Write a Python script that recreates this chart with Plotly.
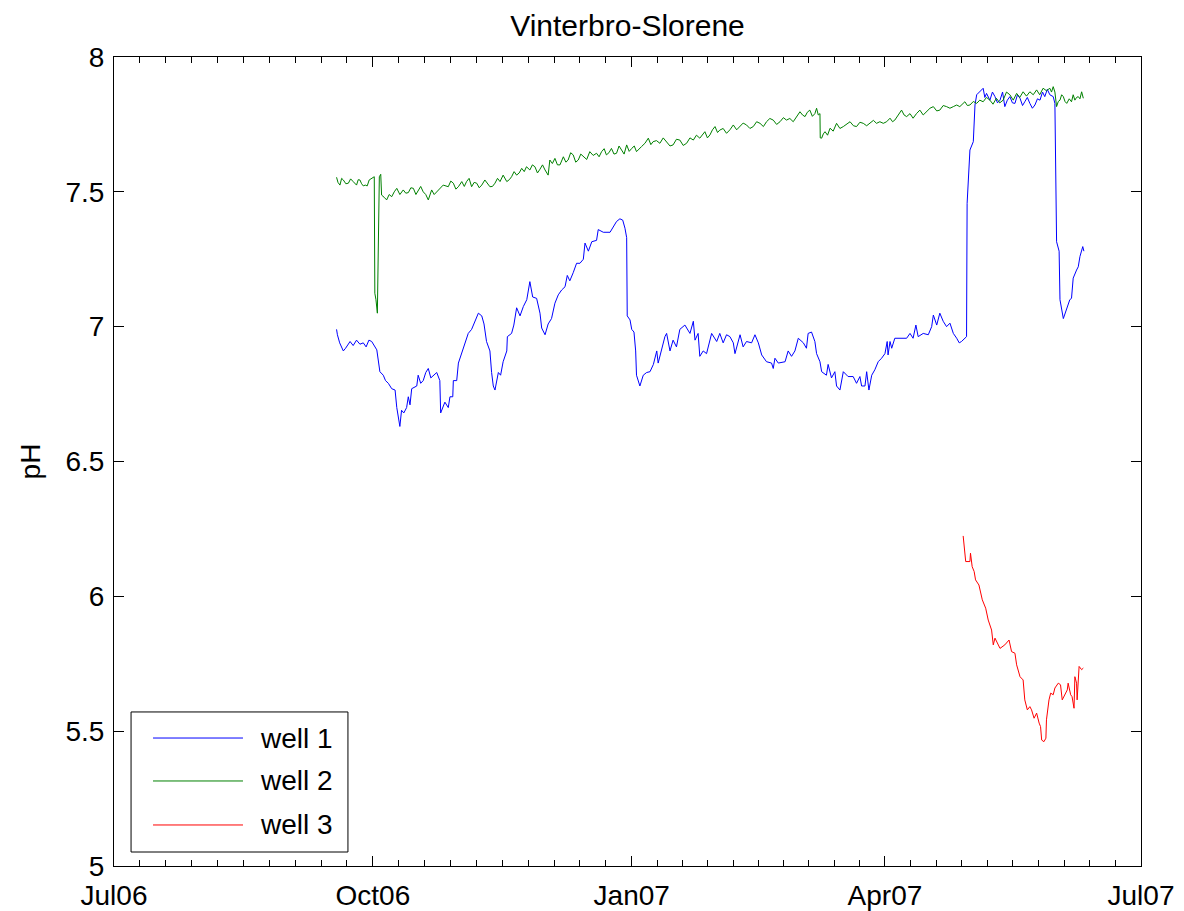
import pandas as pd
import plotly.graph_objects as go

START = "2006-07-01"
title_text = "Vinterbro-Slorene"
series_names = ["well 1", "well 2", "well 3"]
series_colors = ["#0000ff", "#008000", "#ff0000"]
quarter_dates = ["2006-07-01", "2006-10-01", "2007-01-01", "2007-04-01", "2007-07-01"]
quarter_labels = ["Jul06", "Oct06", "Jan07", "Apr07", "Jul07"]
ph_ticks = [5, 5.5, 6, 6.5, 7, 7.5, 8]
ph_labels = ["5", "5.5", "6", "6.5", "7", "7.5", "8"]

# days elapsed since 2006-07-01, and pH readings
blue_days = [
    79.1, 79.4, 80.2, 81.5, 82.3, 83.9, 85.0, 86.2, 87.4, 88.6,
    89.6, 90.6, 91.6, 92.5, 93.4, 94.5, 95.7, 96.5, 97.5, 98.7,
    99.9, 100.5, 101.6, 102.2, 103.0, 104.0, 104.6, 105.2, 105.8, 107.6,
    108.1, 109.0, 109.9, 110.8, 111.7, 112.6, 113.5, 114.7, 115.8, 116.1,
    117.6, 118.8, 119.4, 120.4, 120.6, 121.8, 122.4, 123.6, 124.7, 125.9,
    127.1, 128.3, 129.5, 130.7, 131.5, 132.4, 133.6, 134.2, 134.8, 135.4,
    136.6, 137.4, 138.3, 139.6, 139.8, 141.3, 142.1, 143.1, 144.3, 145.5,
    146.7, 147.8, 148.8, 150.2, 151.4, 152.0, 153.2, 154.3, 155.5, 156.7,
    157.9, 159.1, 160.3, 161.1, 162.0, 163.2, 164.4, 165.6, 166.8, 167.4,
    168.6, 169.8, 171.5, 172.1, 173.9, 176.3, 177.4, 178.6, 179.8, 180.8,
    181.6, 182.2, 182.4, 183.4, 184.0, 184.8, 185.4, 185.7, 186.9, 188.1,
    189.3, 190.5, 191.7, 192.9, 193.4, 194.6, 195.8, 196.4, 197.6, 198.7,
    199.9, 201.1, 202.9, 204.7, 205.9, 206.5, 207.6, 208.2, 209.4, 210.6,
    212.4, 214.2, 215.3, 216.5, 217.7, 218.9, 220.1, 220.7, 222.5, 223.6,
    224.8, 226.6, 227.8, 229.0, 230.2, 231.9, 233.7, 234.3, 234.9, 236.1,
    238.5, 239.6, 240.8, 242.0, 243.2, 245.0, 246.1, 246.7, 247.9, 249.1,
    249.7, 250.9, 251.5, 253.2, 253.8, 255.0, 256.2, 256.8, 258.0, 259.2,
    260.9, 262.7, 263.9, 265.1, 265.7, 266.9, 267.5, 268.3, 269.3, 270.4,
    271.6, 272.8, 274.0, 274.8, 275.1, 275.8, 276.4, 277.5, 281.7, 282.9,
    284.0, 285.0, 285.8, 287.6, 289.4, 290.6, 291.2, 292.4, 293.5, 294.7,
    295.9, 297.1, 298.3, 299.5, 300.4, 301.2, 302.4, 303.0, 303.2, 304.2,
    305.4, 306.0, 306.6, 307.7, 308.9, 309.5, 310.1, 311.3, 312.2, 313.1,
    314.0, 314.9, 315.8, 316.6, 317.5, 318.4, 319.3, 320.2, 321.1, 322.0,
    322.9, 323.7, 324.6, 325.5, 326.4, 327.3, 328.2, 329.1, 330.0, 330.8,
    331.7, 332.6, 333.8, 334.4, 335.0, 335.9, 336.2, 337.4, 338.6, 339.7,
    340.3, 340.9, 342.1, 342.7, 343.3, 344.3, 344.7,
]
blue_ph = [
    6.99, 6.97, 6.94, 6.91, 6.92, 6.945, 6.93, 6.95, 6.935, 6.94,
    6.925, 6.95, 6.945, 6.93, 6.914, 6.833, 6.82, 6.80, 6.79, 6.77,
    6.765, 6.70, 6.63, 6.69, 6.68, 6.70, 6.74, 6.71, 6.77, 6.78,
    6.82, 6.79, 6.80, 6.83, 6.845, 6.81, 6.82, 6.83, 6.80, 6.68,
    6.72, 6.70, 6.74, 6.74, 6.80, 6.80, 6.865, 6.90, 6.94, 6.975,
    6.99, 7.02, 7.05, 7.04, 7.01, 6.945, 6.91, 6.83, 6.78, 6.765,
    6.83, 6.82, 6.87, 6.91, 6.963, 6.975, 7.006, 7.07, 7.04, 7.075,
    7.10, 7.167, 7.11, 7.105, 7.05, 6.995, 6.97, 7.01, 7.03, 7.087,
    7.118, 7.136, 7.148, 7.19, 7.17, 7.20, 7.235, 7.235, 7.25, 7.31,
    7.28, 7.315, 7.32, 7.36, 7.35, 7.35, 7.37, 7.39, 7.40, 7.395,
    7.365, 7.33, 7.04, 7.025, 6.99, 6.98, 6.91, 6.82, 6.78, 6.82,
    6.83, 6.833, 6.86, 6.91, 6.865, 6.91, 6.963, 6.975, 6.91, 6.95,
    6.925, 6.99, 7.006, 6.975, 7.02, 6.95, 6.975, 6.89, 6.91, 6.90,
    6.975, 6.945, 6.975, 6.94, 6.97, 6.963, 6.94, 6.90, 6.97, 6.925,
    6.945, 6.94, 6.97, 6.94, 6.895, 6.87, 6.865, 6.845, 6.883, 6.865,
    6.87, 6.91, 6.89, 6.91, 6.957, 6.94, 6.92, 6.975, 6.98, 6.945,
    6.90, 6.87, 6.833, 6.82, 6.86, 6.81, 6.833, 6.78, 6.765, 6.833,
    6.815, 6.815, 6.79, 6.815, 6.78, 6.78, 6.833, 6.765, 6.82, 6.84,
    6.87, 6.883, 6.90, 6.945, 6.895, 6.945, 6.92, 6.957, 6.957, 6.975,
    6.957, 7.006, 6.963, 6.975, 6.97, 7.0, 7.043, 7.006, 7.05, 7.02,
    7.0, 7.013, 6.975, 6.957, 6.94, 6.945, 6.957, 6.963, 7.457, 7.655,
    7.686, 7.822, 7.86, 7.87, 7.884, 7.85, 7.865, 7.84, 7.87, 7.853,
    7.83, 7.84, 7.87, 7.816, 7.84, 7.853, 7.83, 7.828, 7.86, 7.847,
    7.82, 7.834, 7.85, 7.828, 7.81, 7.822, 7.845, 7.84, 7.87, 7.853,
    7.88, 7.86, 7.853, 7.828, 7.315, 7.28, 7.10, 7.03, 7.07, 7.10,
    7.105, 7.18, 7.21, 7.222, 7.26, 7.297, 7.28,
]

green_days = [
    79.1, 79.6, 80.3, 80.9, 81.5, 82.4, 83.3, 84.1, 85.0, 85.6,
    86.2, 86.8, 87.4, 88.0, 88.6, 89.3, 90.0, 90.7, 91.6, 92.5,
    92.7, 93.1, 93.6, 94.3, 94.8, 95.1, 96.0, 96.9, 97.8, 98.7,
    99.6, 100.5, 101.6, 102.8, 103.7, 104.6, 105.5, 106.4, 107.3, 108.1,
    109.0, 109.9, 110.8, 111.7, 112.9, 113.8, 114.7, 115.9, 117.0, 118.8,
    119.7, 120.6, 121.5, 122.4, 123.6, 124.5, 125.3, 126.2, 127.1, 128.0,
    128.9, 129.8, 130.7, 131.8, 132.7, 133.6, 134.5, 135.4, 136.3, 137.2,
    138.3, 139.6, 140.5, 141.3, 142.2, 143.1, 144.0, 144.9, 145.8, 146.6,
    147.8, 148.7, 149.6, 150.5, 151.4, 152.3, 153.2, 154.3, 154.9, 155.8,
    156.7, 157.6, 158.5, 159.7, 160.6, 161.4, 162.3, 163.2, 164.1, 165.0,
    165.9, 166.8, 168.0, 169.1, 170.3, 171.5, 172.4, 173.3, 174.2, 175.0,
    175.9, 176.8, 177.7, 178.6, 179.5, 180.4, 181.3, 182.2, 183.1, 184.0,
    184.9, 185.7, 186.6, 187.5, 188.7, 189.9, 190.8, 191.6, 192.8, 194.0,
    195.2, 196.4, 197.6, 198.7, 199.9, 201.1, 202.3, 203.5, 204.7, 205.9,
    207.0, 208.2, 209.1, 210.0, 210.9, 211.8, 212.7, 213.6, 214.5, 215.3,
    216.5, 217.7, 218.9, 220.1, 221.3, 222.5, 223.6, 224.8, 226.0, 227.2,
    228.4, 229.6, 230.8, 231.9, 233.1, 234.3, 235.5, 236.7, 237.9, 239.0,
    240.2, 241.4, 242.6, 243.8, 244.7, 245.6, 246.4, 247.3, 248.2, 249.1,
    249.7, 250.3, 250.9, 251.0, 251.5, 252.1, 252.7, 253.6, 254.5, 255.6,
    256.8, 258.0, 259.2, 260.4, 261.6, 262.8, 263.9, 265.1, 266.3, 267.5,
    268.7, 269.9, 271.0, 272.2, 273.4, 274.6, 275.8, 276.7, 277.5, 278.7,
    279.9, 280.8, 281.7, 282.9, 284.0, 285.2, 286.4, 287.6, 288.8, 290.0,
    291.2, 292.4, 293.5, 294.7, 295.9, 297.1, 298.3, 299.5, 300.6, 301.5,
    302.4, 303.3, 304.2, 305.4, 306.6, 307.7, 308.9, 310.1, 311.3, 312.4,
    313.6, 314.8, 316.0, 317.2, 318.4, 319.6, 320.8, 321.9, 323.1, 324.3,
    325.5, 326.7, 327.9, 329.0, 330.2, 331.4, 332.6, 333.2, 333.8, 334.4,
    335.0, 335.6, 336.2, 336.8, 337.4, 338.0, 338.6, 339.5, 340.3, 340.9,
    341.5, 342.1, 342.7, 343.3, 343.9, 344.5,
]
green_ph = [
    7.554, 7.535, 7.525, 7.55, 7.544, 7.53, 7.532, 7.548, 7.538, 7.53,
    7.525, 7.545, 7.544, 7.53, 7.522, 7.525, 7.522, 7.544, 7.55, 7.556,
    7.124, 7.10, 7.05, 7.556, 7.565, 7.488, 7.48, 7.47, 7.49, 7.482,
    7.50, 7.513, 7.49, 7.507, 7.495, 7.497, 7.515, 7.513, 7.49, 7.504,
    7.52, 7.50, 7.49, 7.47, 7.507, 7.49, 7.50, 7.515, 7.525, 7.519,
    7.54, 7.532, 7.51, 7.519, 7.538, 7.52, 7.538, 7.55, 7.519, 7.535,
    7.532, 7.515, 7.525, 7.544, 7.53, 7.519, 7.52, 7.532, 7.55, 7.538,
    7.562, 7.538, 7.545, 7.556, 7.575, 7.562, 7.57, 7.587, 7.575, 7.593,
    7.581, 7.60, 7.593, 7.57, 7.584, 7.60, 7.581, 7.562, 7.618, 7.605,
    7.624, 7.60, 7.60, 7.63, 7.61, 7.618, 7.645, 7.637, 7.61, 7.618,
    7.64, 7.63, 7.62, 7.649, 7.635, 7.643, 7.63, 7.649, 7.66, 7.637,
    7.645, 7.661, 7.64, 7.643, 7.67, 7.655, 7.64, 7.674, 7.65, 7.661,
    7.67, 7.649, 7.66, 7.668, 7.68, 7.699, 7.675, 7.686, 7.69, 7.68,
    7.70, 7.686, 7.67, 7.674, 7.695, 7.692, 7.672, 7.68, 7.70, 7.692,
    7.71, 7.699, 7.711, 7.723, 7.70, 7.711, 7.73, 7.742, 7.72, 7.729,
    7.735, 7.717, 7.73, 7.748, 7.73, 7.742, 7.755, 7.748, 7.735, 7.742,
    7.76, 7.754, 7.742, 7.76, 7.772, 7.766, 7.75, 7.76, 7.775, 7.766,
    7.772, 7.76, 7.78, 7.797, 7.785, 7.779, 7.795, 7.803, 7.78, 7.79,
    7.81, 7.785, 7.79, 7.70, 7.699, 7.715, 7.723, 7.71, 7.736, 7.725,
    7.754, 7.735, 7.742, 7.75, 7.76, 7.745, 7.742, 7.758, 7.754, 7.745,
    7.754, 7.765, 7.754, 7.76, 7.754, 7.76, 7.773, 7.76, 7.766, 7.785,
    7.803, 7.785, 7.779, 7.79, 7.773, 7.79, 7.803, 7.785, 7.797, 7.81,
    7.816, 7.80, 7.803, 7.82, 7.816, 7.81, 7.816, 7.822, 7.816, 7.825,
    7.834, 7.82, 7.822, 7.835, 7.828, 7.84, 7.834, 7.85, 7.84, 7.825,
    7.847, 7.83, 7.84, 7.87, 7.86, 7.84, 7.865, 7.85, 7.871, 7.855,
    7.871, 7.86, 7.878, 7.86, 7.884, 7.875, 7.884, 7.87, 7.89, 7.87,
    7.816, 7.835, 7.84, 7.86, 7.853, 7.835, 7.828, 7.845, 7.834, 7.86,
    7.84, 7.85, 7.853, 7.845, 7.871, 7.847,
]

red_days = [
    301.8, 302.7, 304.2, 304.4, 305.0, 305.7, 306.2, 307.4, 308.6, 309.8,
    310.7, 311.9, 312.5, 313.1, 314.9, 316.6, 318.1, 319.0, 320.2, 320.8,
    322.0, 323.1, 323.7, 324.6, 325.5, 326.1, 327.0, 327.9, 328.8, 329.3,
    329.7, 330.5, 331.2, 331.4, 332.3, 332.9, 333.8, 334.4, 335.6, 336.4,
    337.0, 338.0, 338.8, 339.1, 340.0, 340.5, 341.2, 341.5, 342.1, 342.3,
    343.0, 343.9, 344.5,
]
red_ph = [
    6.224, 6.129, 6.129, 6.16, 6.11, 6.092, 6.061, 6.042, 5.987, 5.956,
    5.912, 5.875, 5.82, 5.845, 5.807, 5.82, 5.838, 5.795, 5.789, 5.746,
    5.702, 5.69, 5.616, 5.579, 5.591, 5.579, 5.548, 5.567, 5.53, 5.517,
    5.467, 5.461, 5.474, 5.542, 5.616, 5.641, 5.635, 5.66, 5.678, 5.672,
    5.616, 5.635, 5.653, 5.678, 5.635, 5.628, 5.585, 5.702, 5.678, 5.616,
    5.74, 5.728, 5.734,
]

FONT = "Liberation Sans"
start = pd.Timestamp(START)


def to_dates(days):
    return start + pd.to_timedelta(pd.Series(days), unit="D")


fig = go.Figure()
for name, color, d, v in [
    (series_names[0], series_colors[0], blue_days, blue_ph),
    (series_names[1], series_colors[1], green_days, green_ph),
    (series_names[2], series_colors[2], red_days, red_ph),
]:
    fig.add_trace(go.Scatter(x=to_dates(d), y=v, mode="lines", name=name,
                             line=dict(color=color, width=1), showlegend=False))

# minor ticks: each quarter divided into ten
q = pd.to_datetime(quarter_dates)
minor_vals = []
for a, b in zip(q[:-1], q[1:]):
    for k in range(1, 10):
        minor_vals.append(a + (b - a) * k / 10)

W, H = 1176, 903
fig.update_layout(
    width=W, height=H,
    margin=dict(l=106, r=43, t=49, b=45),
    paper_bgcolor="white", plot_bgcolor="white",
    font=dict(family=FONT, color="black"),
    title=dict(text=title_text, x=0.5, xref="paper", y=1 - 17 / H,
               yref="container", xanchor="center", yanchor="middle",
               font=dict(size=30, family=FONT, color="black")),
)
fig.update_xaxes(
    type="date", range=[quarter_dates[0], quarter_dates[-1]], automargin=False,
    tickmode="array", tickvals=quarter_dates, ticktext=quarter_labels,
    ticks="inside", ticklen=10, tickwidth=1, tickcolor="black",
    showline=True, linecolor="black", linewidth=1, mirror="allticks",
    showgrid=False, zeroline=False, ticklabelstandoff=4,
    tickfont=dict(size=28, family=FONT, color="black"),
    minor=dict(tickmode="array", tickvals=minor_vals, ticks="inside",
               ticklen=6, tickwidth=1, tickcolor="black", showgrid=False),
)
fig.update_yaxes(
    range=[5, 8], automargin=False, tickmode="array", tickvals=ph_ticks,
    ticktext=ph_labels,
    ticks="inside", ticklen=10, tickwidth=1, tickcolor="black",
    showline=True, linecolor="black", linewidth=1, mirror="allticks",
    showgrid=False, zeroline=False, ticklabelstandoff=3,
    tickfont=dict(size=28, family=FONT, color="black"),
    title=dict(text="pH", font=dict(size=28, family=FONT, color="black"), standoff=16),
)

# legend box (MATLAB style, long line samples)
fig.add_shape(type="rect", xref="paper", yref="paper", x0=0.0166, x1=0.2278,
              y0=0.0173, y1=0.1904, line=dict(color="black", width=1),
              fillcolor="white", layer="above")
for name, color, yy in zip(series_names, series_colors, [0.1582, 0.1051, 0.0507]):
    fig.add_shape(type="line", xref="paper", yref="paper", x0=0.038, x1=0.1256,
                  y0=yy, y1=yy, line=dict(color=color, width=1), layer="above")
    fig.add_annotation(text=name, xref="paper", yref="paper", x=0.1402, y=yy,
                       xanchor="left", yanchor="middle", showarrow=False,
                       font=dict(size=28, family=FONT, color="black"))

fig.write_html("out.html")
